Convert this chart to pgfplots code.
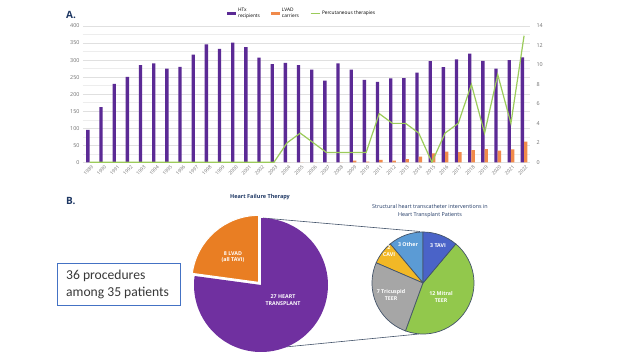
\documentclass[border=0pt]{standalone}
\usepackage{pgfplots}
\usepackage{pgfplotstable}
\pgfplotsset{compat=1.18}
\usepackage{fontspec}
\setmainfont{Open Sans}
\newfontfamily\calib{Carlito}
\definecolor{barpurple}{HTML}{5B2A95}
\definecolor{barorange}{HTML}{F08A4B}
\definecolor{lgreen}{HTML}{9BCB5A}
\definecolor{piepurple}{HTML}{7030A0}
\definecolor{pieorange}{HTML}{E97E23}
\definecolor{tavi}{HTML}{4A63C8}
\definecolor{mitral}{HTML}{92C84C}
\definecolor{tric}{HTML}{A6A6A6}
\definecolor{cavi}{HTML}{F2B826}
\definecolor{other}{HTML}{5B9BD5}
\definecolor{edge}{HTML}{44546A}
\definecolor{navy}{HTML}{1F3864}
\definecolor{boxblue}{HTML}{4472C4}
\definecolor{ticktext}{HTML}{707070}

\pgfplotstableread{
year htx lvad perc
1989 95 0 0
1990 162 0 0
1991 230 0 0
1992 251 0 0
1993 285 0 0
1994 290 0 0
1995 275 0 0
1996 280 0 0
1997 316 0 0
1998 346 0 0
1999 333 0 0
2000 351 0 0
2001 338 0 0
2002 307 0 0
2003 288 0 0
2004 292 0 2
2005 285 0 3
2006 272 0 2
2007 240 0 1
2008 290 0 1
2009 272 5 1
2010 242 2 1
2011 236 7 5
2012 246 5 4
2013 247 9 4
2014 263 17 3
2015 297 26 0
2016 279 31 3
2017 302 30 4
2018 319 36 8
2019 298 39 3
2020 275 34 9
2021 300 38 4
2022 308 61 13
}\data

\begin{document}
\begin{tikzpicture}[x=1pt,y=1pt]
\path[use as bounding box, fill=white] (0pt,0pt) rectangle (640pt,360pt);

% ---------- Panel A: bars ----------
\begin{axis}[
  at={(83pt,197.7pt)}, anchor=south west, scale only axis,
  width=447pt, height=136.3pt,
  xmin=1988.5, xmax=2022.45, ymin=0, ymax=400,
  ytick={0,50,...,400}, minor ytick={25,75,...,375},
  ymajorgrids, yminorgrids,
  major grid style={draw=black!12, line width=0.4pt},
  minor grid style={draw=black!7, line width=0.4pt},
  axis line style={draw=none}, major tick length=0pt, minor tick length=0pt,
  xtick={1989,...,2022},
  xticklabel style={rotate=45, anchor=north east, font=\fontsize{4.8}{5}\selectfont, text=ticktext, inner sep=1pt, yshift=-2pt},
  yticklabel style={font=\fontsize{5.4}{6}\selectfont, text=ticktext},
  /pgf/number format/1000 sep={},
  /pgf/number format/assume math mode=true,
  legend style={at={(0.322,1.15)}, anchor=north west, draw=none, fill=none,
    legend columns=3, font=\fontsize{4.8}{5.3}\selectfont, inner sep=0pt,
    /tikz/every even column/.append style={column sep=9pt}},
  legend cell align=left,
]
\addplot[ybar, bar width=3.4pt, bar shift=-1.7pt, fill=barpurple, draw=none,
  legend image code/.code={\fill[barpurple] (0pt,-1.3pt) rectangle (9pt,1.3pt);}]
  table[x=year, y=htx]{\data};
\addlegendentry{\shortstack[l]{HTx\\recipients}}
\addplot[ybar, bar width=3.4pt, bar shift=1.7pt, fill=barorange, draw=none,
  legend image code/.code={\fill[barorange] (0pt,-1.3pt) rectangle (9pt,1.3pt);}]
  table[x=year, y=lvad]{\data};
\addlegendentry{\shortstack[l]{LVAD\\carriers}}
\addlegendimage{legend image code/.code={\draw[lgreen, line width=1pt] (0pt,0pt) -- (9pt,0pt);}}
\addlegendentry{Percutaneous therapies}
\end{axis}

% ---------- Panel A: line on right axis ----------
\begin{axis}[
  at={(83pt,197.7pt)}, anchor=south west, scale only axis,
  width=447pt, height=136.3pt,
  xmin=1988.5, xmax=2022.45, ymin=0, ymax=14,
  axis y line*=right, axis x line=none,
  ytick={0,2,...,14},
  axis line style={draw=none}, major tick length=0pt,
  yticklabel style={font=\fontsize{5.4}{6}\selectfont, text=ticktext, xshift=3pt},
  /pgf/number format/assume math mode=true,
]
\addplot[lgreen, line width=1.2pt, mark=none] table[x=year, y=perc]{\data};
\end{axis}

% ---------- connector lines ----------
\draw[edge, line width=0.6pt] (263pt,142pt) -- (420pt,128.5pt);
\draw[edge, line width=0.6pt] (285pt,13pt) -- (419pt,26pt);

% ---------- Panel B: big pie ----------
\begin{axis}[
  at={(261pt,75pt)}, anchor=center, scale only axis,
  width=134pt, height=134pt,
  xmin=-1, xmax=1, ymin=-1, ymax=1, hide axis, clip=false,
]
\fill[piepurple] (axis cs:0,0) -- ++({90+8/35*360}:67pt)
   arc[start angle={90+8/35*360}, end angle=450, radius=67pt] -- cycle;
\filldraw[fill=pieorange, draw=white, line width=1pt] ([shift={(131:3.5pt)}]axis cs:0,0) -- ++(90:67pt)
   arc[start angle=90, end angle={90+8/35*360}, radius=67pt] -- cycle;
\end{axis}

% ---------- Panel B: small pie ----------
\begin{axis}[
  at={(423pt,77pt)}, anchor=center, scale only axis,
  width=102pt, height=102pt,
  xmin=-1, xmax=1, ymin=-1, ymax=1, hide axis, clip=false,
]
\filldraw[fill=other, draw=edge, line width=0.7pt] (axis cs:0,0) -- ++(90:51pt)
   arc[start angle=90, end angle={90+3/27*360}, radius=51pt] -- cycle;
\filldraw[fill=cavi, draw=edge, line width=0.7pt] (axis cs:0,0) -- ++({90+3/27*360}:51pt)
   arc[start angle={90+3/27*360}, end angle={90+5/27*360}, radius=51pt] -- cycle;
\filldraw[fill=tric, draw=edge, line width=0.7pt] (axis cs:0,0) -- ++({90+5/27*360}:51pt)
   arc[start angle={90+5/27*360}, end angle={90+12/27*360}, radius=51pt] -- cycle;
\filldraw[fill=mitral, draw=edge, line width=0.7pt] (axis cs:0,0) -- ++({90+12/27*360}:51pt)
   arc[start angle={90+12/27*360}, end angle={90+24/27*360}, radius=51pt] -- cycle;
\filldraw[fill=tavi, draw=edge, line width=0.7pt] (axis cs:0,0) -- ++({90+24/27*360}:51pt)
   arc[start angle={90+24/27*360}, end angle=450, radius=51pt] -- cycle;
\end{axis}

% ---------- texts ----------
\node[anchor=west, text=navy, font=\fontsize{10}{12}\selectfont\bfseries, inner sep=0pt] at (66pt,345pt) {A.};
\node[anchor=west, text=navy, font=\fontsize{10}{12}\selectfont\bfseries, inner sep=0pt] at (66pt,159pt) {B.};
\node[text=navy, font=\fontsize{5.5}{6}\selectfont\bfseries, inner sep=0pt] at (260pt,163pt) {Heart Failure Therapy};
\node[text=navy, font=\fontsize{5.4}{7.8}\selectfont, align=center, inner sep=0pt] at (430pt,149pt)
  {Structural heart transcatheter interventions in\\Heart Transplant Patients};

\begin{scope}[every node/.style={text=white, font=\fontsize{5.3}{6.8}\selectfont\bfseries, align=center, inner sep=0pt}]
\node at (233pt,103pt) {8 LVAD\\(all TAVI)};
\node at (283pt,60pt) {27 HEART\\TRANSPLANT};
\node at (438pt,114pt) {3 TAVI};
\node at (408pt,115pt) {3 Other};
\node at (389pt,109pt) {2\\CAVI};
\node at (391pt,65pt) {7 Tricuspid\\TEER};
\node at (441pt,63pt) {12 Mitral\\TEER};
\end{scope}

\draw[boxblue, line width=1pt, fill=white] (57pt,55pt) rectangle (180pt,97pt);
\node[anchor=west, text=black!78, font=\calib\fontsize{13.6}{17}\selectfont, align=left, inner sep=0pt] at (66pt,76pt)
  {36 procedures\\among 35 patients};
\end{tikzpicture}
\end{document}
